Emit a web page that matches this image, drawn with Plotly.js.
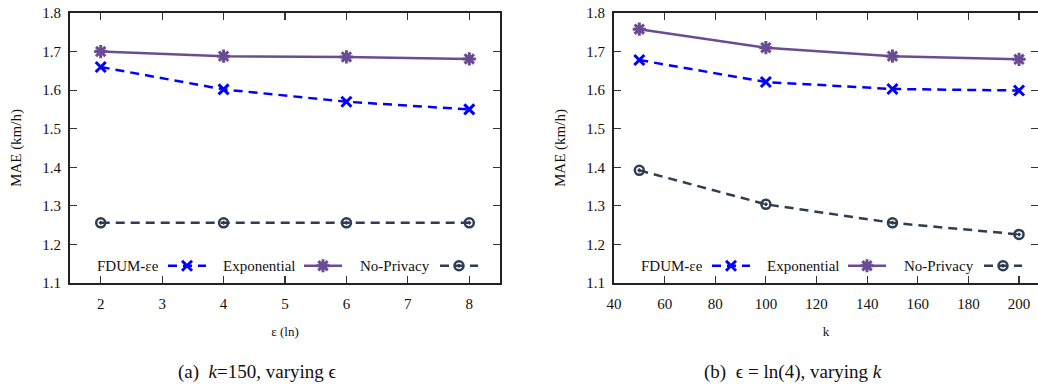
<!DOCTYPE html>
<html>
<head>
<meta charset="utf-8">
<script src="https://cdn.plot.ly/plotly-3.0.1.min.js"></script>
<style>html,body{margin:0;padding:0;background:#fff;}#chart{width:1038px;height:392px;}</style>
</head>
<body>
<div id="chart"></div>
<script>
// ---- data ----
var seriesNames = ['FDUM-εe', 'Exponential', 'No-Privacy'];
var xEps = [2, 4, 6, 8];
var fdumEps = [1.660, 1.602, 1.570, 1.550];
var expEps = [1.700, 1.688, 1.686, 1.681];
var noPrivEps = [1.256, 1.256, 1.256, 1.256];
var xK = [50, 100, 150, 200];
var fdumK = [1.678, 1.621, 1.603, 1.599];
var expK = [1.758, 1.710, 1.688, 1.680];
var noPrivK = [1.392, 1.304, 1.256, 1.226];
var xTicksEps = [2, 3, 4, 5, 6, 7, 8];
var yTicks = [1.1, 1.2, 1.3, 1.4, 1.5, 1.6, 1.7, 1.8];
var yTickText = ['1.1', '1.2', '1.3', '1.4', '1.5', '1.6', '1.7', '1.8'];
var captionA = '(a)  <i>k</i>=150, varying ϵ';
var captionB = '(b)  ϵ = ln(4), varying <i>k</i>';

// ---- styles ----
var W = 1038, H = 392;
var FONT = 'Liberation Serif';
var colors = ['#0000ff', '#6a4c93', '#2e3d52'];
var styles = [
  {line: {color: colors[0], width: 2.5, dash: '9px,6px'}, marker: {symbol: 'x-thin-open', size: 10, color: colors[0], line: {color: colors[0], width: 3}}},
  {line: {color: colors[1], width: 2.5}, marker: {symbol: 'asterisk-open', size: 11, color: colors[1], line: {color: colors[1], width: 3}}},
  {line: {color: colors[2], width: 2.5, dash: '9px,6px'}, marker: {symbol: 'circle-open-dot', size: 9, color: colors[2], line: {color: colors[2], width: 2.5}}}
];
function px(x) { return x / W; }
function py(y) { return 1 - y / H; }

var legendLeftStarts = [168, 304, 440];
var legendRightStarts = [712, 848, 984];
var legendTextEndsL = [161, 297, 432];
var legendTextEndsR = [705, 841, 976];
var legendY = 266;

var left = [fdumEps, expEps, noPrivEps];
var right = [fdumK, expK, noPrivK];
var traces = [];
left.forEach(function (ys, i) {
  traces.push({x: xEps, y: ys, type: 'scatter', mode: 'lines+markers', name: '',
    xaxis: 'x', yaxis: 'y', line: styles[i].line, marker: styles[i].marker,
    legend: i === 0 ? 'legend' : 'legend' + (i + 1), hoverinfo: 'x+y'});
});
right.forEach(function (ys, i) {
  traces.push({x: xK, y: ys, type: 'scatter', mode: 'lines+markers', name: '',
    xaxis: 'x2', yaxis: 'y2', line: styles[i].line, marker: styles[i].marker,
    legend: 'legend' + (i + 4), hoverinfo: 'x+y'});
});

var axisCommon = {
  showgrid: false, zeroline: false, showline: true, linecolor: '#222', linewidth: 2,
  ticks: 'inside', ticklen: 7, tickwidth: 1.2, tickcolor: '#333',
  tickfont: {family: FONT, size: 15, color: '#111'}, mirror: 'ticks'
};
function ax(extra) { return Object.assign({}, axisCommon, extra); }

var yDomain = [py(283), py(13)];
var layout = {
  width: W, height: H, margin: {l: 0, r: 0, t: 0, b: 0},
  paper_bgcolor: '#fff', plot_bgcolor: '#fff', showlegend: true,
  font: {family: FONT, color: '#111'},
  xaxis: ax({domain: [px(70), px(500)], range: [1.5, 8.5], tickvals: xTicksEps, anchor: 'y',
    ticklabelstandoff: 6,
    title: {text: 'ε (ln)', font: {family: FONT, size: 13, color: '#111'}, standoff: 16}}),
  yaxis: ax({domain: yDomain, range: [1.1, 1.8], tickvals: yTicks, ticktext: yTickText, anchor: 'x',
    ticklabelstandoff: 4,
    title: {text: 'MAE (km/h)', font: {family: FONT, size: 15, color: '#111'}, standoff: 17}}),
  xaxis2: ax({domain: [px(614), 1], range: [40, 207.5], tick0: 40, dtick: 20, anchor: 'y2',
    ticklabelstandoff: 6,
    title: {text: 'k', font: {family: FONT, size: 13, color: '#111'}, standoff: 16}}),
  yaxis2: ax({domain: yDomain, range: [1.1, 1.8], tickvals: yTicks, ticktext: yTickText, anchor: 'x2',
    ticklabelstandoff: 4,
    title: {text: 'MAE (km/h)', font: {family: FONT, size: 15, color: '#111'}, standoff: 17}}),
  annotations: [
    {text: captionA, xref: 'paper', yref: 'paper', x: px(257), y: py(372), xanchor: 'center', yanchor: 'middle', showarrow: false, font: {family: FONT, size: 19, color: '#111'}},
    {text: captionB, xref: 'paper', yref: 'paper', x: px(793), y: py(372), xanchor: 'center', yanchor: 'middle', showarrow: false, font: {family: FONT, size: 19, color: '#111'}}
  ]
};

var legendKeys = ['legend', 'legend2', 'legend3', 'legend4', 'legend5', 'legend6'];
var starts = legendLeftStarts.concat(legendRightStarts);
legendKeys.forEach(function (k, i) {
  layout[k] = {x: px(starts[i] - 5), y: py(legendY), xanchor: 'left', yanchor: 'middle',
    bgcolor: 'rgba(0,0,0,0)', borderwidth: 0, itemwidth: 38, font: {family: FONT, size: 15},
    orientation: 'h', itemclick: false, itemdoubleclick: false};
});
var textEnds = legendTextEndsL.concat(legendTextEndsR);
textEnds.forEach(function (xe, i) {
  layout.annotations.push({text: seriesNames[i % 3], xref: 'paper', yref: 'paper', x: px(xe), y: py(legendY),
    xanchor: 'right', yanchor: 'middle', showarrow: false, font: {family: FONT, size: 15, color: '#111'}});
});

Plotly.newPlot('chart', traces, layout, {displayModeBar: false, staticPlot: true});
</script>
</body>
</html>
